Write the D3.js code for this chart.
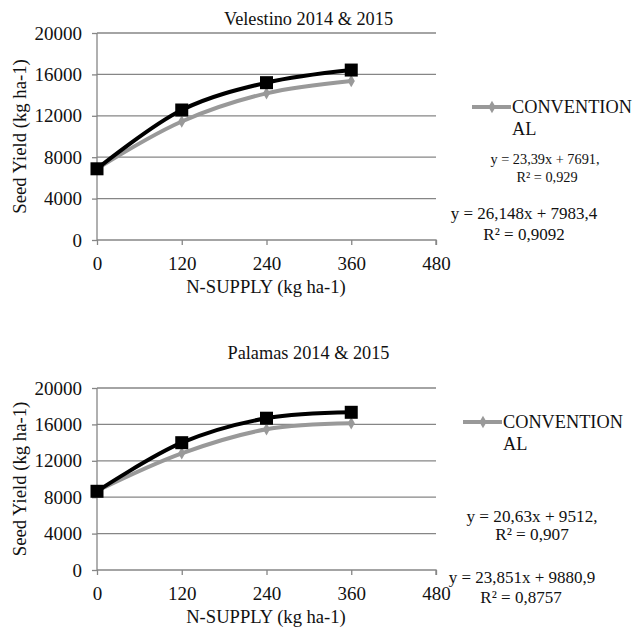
<!DOCTYPE html>
<html><head><meta charset="utf-8">
<script src="https://cdn.jsdelivr.net/npm/d3@7"></script>
<style>body{margin:0;background:#fff}svg{display:block}</style>
</head><body>
<svg id="c" width="637" height="629"></svg>
<script>
const nSupply = [0, 120, 240, 360];
const xTicks = [0, 120, 240, 360, 480];
const yTicks = [0, 4000, 8000, 12000, 16000, 20000];
const titles = ["Velestino 2014 & 2015", "Palamas 2014 & 2015"];
const velestinoBlack = [6880, 12560, 15200, 16420];
const velestinoGrey = [6880, 11450, 14170, 15360];
const palamasBlack = [8650, 13990, 16680, 17330];
const palamasGrey = [8700, 12820, 15460, 16120];
const legendLabel = ["CONVENTION", "AL"];
const eqSmall = [["y = 23,39x + 7691,", "R² = 0,929"], ["y = 20,63x + 9512,", "R² = 0,907"]];
const eqLarge = [["y = 26,148x + 7983,4", "R² = 0,9092"], ["y = 23,851x + 9880,9", "R² = 0,8757"]];

const svg = d3.select("#c");
const panels = [
  {top: 33, bottom: 240, titleY: 25, black: velestinoBlack, grey: velestinoGrey,
   leg: {x: 472, y: 107, base: [113, 135]},
   eqS: {x: [545, 547], y: [164, 182], size: 14.3}, eqL: {x: [524, 524], y: [219, 240], size: 17}},
  {top: 388, bottom: 570, titleY: 359, black: palamasBlack, grey: palamasGrey,
   leg: {x: 463, y: 422, base: [428, 450]},
   eqS: {x: [532, 532], y: [522, 540], size: 17.2}, eqL: {x: [522, 521], y: [583, 603], size: 17}}
];
const x = d3.scaleLinear().domain([0, 480]).range([97, 436]);
const gridC = "#868686";

panels.forEach((p, i) => {
  const g = svg.append("g");
  const y = d3.scaleLinear().domain([0, 20000]).range([p.bottom, p.top]);
  g.selectAll(".grid").data(yTicks.slice(1)).join("line")
    .attr("x1", x(0)).attr("x2", x(480)).attr("y1", d => y(d)).attr("y2", d => y(d))
    .attr("stroke", gridC).attr("stroke-width", 1.3);
  const xa = g.append("g").attr("transform", `translate(0,${p.bottom})`)
    .call(d3.axisBottom(x).tickValues(xTicks).tickFormat(d3.format("d")).tickSize(5).tickPadding(12));
  const ya = g.append("g").attr("transform", `translate(${x(0)},0)`)
    .call(d3.axisLeft(y).tickValues(yTicks).tickFormat(d3.format("d")).tickSize(5).tickPadding(10));
  [xa, ya].forEach(a => {
    a.selectAll("path").attr("stroke", gridC).attr("stroke-width", 1.3);
    a.selectAll("line").attr("stroke", gridC).attr("stroke-width", 1.3);
    a.selectAll("text").style("font-size", "19px");
  });
  ya.select(".domain").attr("d", `M0,${p.bottom}V${p.top}`);
  xa.select(".domain").attr("d", `M${x(0)},0H${x(480)}V5`);
  g.append("text").attr("x", 308.5).attr("y", p.titleY).attr("text-anchor", "middle").style("font-size", "18.3px").text(titles[i]);
  g.append("text").attr("x", 266).attr("y", p.bottom + 53).attr("text-anchor", "middle").style("font-size", "18.6px").text("N-SUPPLY (kg ha-1)");
  g.append("text").attr("transform", `translate(26,${(p.top + p.bottom) / 2}) rotate(-90)`).attr("text-anchor", "middle").style("font-size", "18.7px").text("Seed Yield (kg ha-1)");
  const line = d3.line().x((d, j) => x(nSupply[j])).y(d => y(d)).curve(d3.curveCatmullRom.alpha(0.5));
  g.append("path").attr("d", line(p.grey)).attr("fill", "none").attr("stroke", "#999").attr("stroke-width", 4);
  g.selectAll(".dm").data(p.grey).join("path")
    .attr("d", d3.symbol(d3.symbolDiamond, 45)())
    .attr("transform", (d, j) => `translate(${x(nSupply[j])},${y(d)})`).attr("fill", "#999");
  g.append("path").attr("d", line(p.black)).attr("fill", "none").attr("stroke", "#000").attr("stroke-width", 4);
  g.selectAll(".sq").data(p.black).join("rect")
    .attr("x", (d, j) => x(nSupply[j]) - 6.5).attr("y", d => y(d) - 6.5).attr("width", 13).attr("height", 13).attr("fill", "#000");
  const L = p.leg;
  g.append("line").attr("x1", L.x).attr("x2", L.x + 39).attr("y1", L.y).attr("y2", L.y).attr("stroke", "#999").attr("stroke-width", 4);
  g.append("path").attr("d", d3.symbol(d3.symbolDiamond, 45)()).attr("transform", `translate(${L.x + 20},${L.y})`).attr("fill", "#999");
  legendLabel.forEach((t, k) => g.append("text").attr("x", L.x + 40).attr("y", L.base[k]).style("font-size", "18.3px").text(t));
  [p.eqS, p.eqL].forEach((e, k) => {
    const lines = k === 0 ? eqSmall[i] : eqLarge[i];
    lines.forEach((t, m) => g.append("text").attr("x", e.x[m]).attr("y", e.y[m])
      .attr("text-anchor", "middle").style("font-size", e.size + "px").text(t));
  });
});
svg.selectAll("text").style("font-family", '"Liberation Serif"').attr("fill", "#111");
</script>
</body></html>
